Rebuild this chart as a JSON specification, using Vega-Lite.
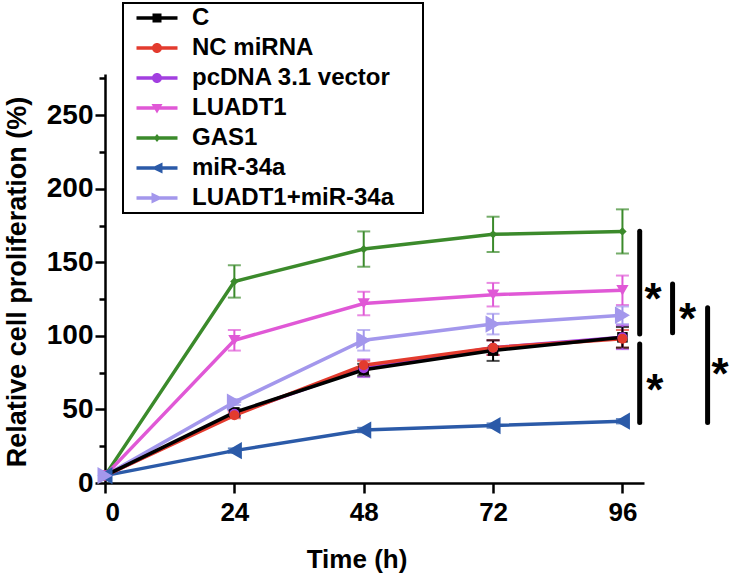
{
  "$schema": "https://vega.github.io/schema/vega-lite/v6.json",
  "autosize": "none",
  "width": 539,
  "height": 409,
  "padding": {"left": 105, "top": 74, "right": 91, "bottom": 97},
  "background": "white",
  "config": {"view": {"stroke": null}, "font": "Liberation Sans"},
  "datasets": {
    "main": [
      {"series": "miR-34a", "time": 0, "value": 5, "err": 0},
      {"series": "miR-34a", "time": 24, "value": 22, "err": 1.5},
      {"series": "miR-34a", "time": 48, "value": 36, "err": 1.5},
      {"series": "miR-34a", "time": 72, "value": 39, "err": 1.5},
      {"series": "miR-34a", "time": 96, "value": 42, "err": 1.5},
      {"series": "LUADT1+miR-34a", "time": 0, "value": 5, "err": 0},
      {"series": "LUADT1+miR-34a", "time": 24, "value": 55, "err": 2},
      {"series": "LUADT1+miR-34a", "time": 48, "value": 97, "err": 7},
      {"series": "LUADT1+miR-34a", "time": 72, "value": 108, "err": 7},
      {"series": "LUADT1+miR-34a", "time": 96, "value": 114, "err": 6},
      {"series": "GAS1", "time": 0, "value": 5, "err": 0},
      {"series": "GAS1", "time": 24, "value": 137, "err": 11},
      {"series": "GAS1", "time": 48, "value": 159, "err": 12},
      {"series": "GAS1", "time": 72, "value": 169, "err": 12},
      {"series": "GAS1", "time": 96, "value": 171, "err": 15},
      {"series": "pcDNA 3.1 vector", "time": 0, "value": 5, "err": 0},
      {"series": "pcDNA 3.1 vector", "time": 24, "value": 47, "err": 2},
      {"series": "pcDNA 3.1 vector", "time": 48, "value": 78, "err": 6},
      {"series": "pcDNA 3.1 vector", "time": 72, "value": 92, "err": 5},
      {"series": "pcDNA 3.1 vector", "time": 96, "value": 99, "err": 8},
      {"series": "NC miRNA", "time": 0, "value": 5, "err": 0},
      {"series": "NC miRNA", "time": 24, "value": 46, "err": 2},
      {"series": "NC miRNA", "time": 48, "value": 80, "err": 3},
      {"series": "NC miRNA", "time": 72, "value": 92, "err": 5},
      {"series": "NC miRNA", "time": 96, "value": 98, "err": 6},
      {"series": "LUADT1", "time": 0, "value": 5, "err": 0},
      {"series": "LUADT1", "time": 24, "value": 97, "err": 7},
      {"series": "LUADT1", "time": 48, "value": 122, "err": 8},
      {"series": "LUADT1", "time": 72, "value": 128, "err": 8},
      {"series": "LUADT1", "time": 96, "value": 131, "err": 10},
      {"series": "C", "time": 0, "value": 5, "err": 0},
      {"series": "C", "time": 24, "value": 48, "err": 2},
      {"series": "C", "time": 48, "value": 77, "err": 4},
      {"series": "C", "time": 72, "value": 90, "err": 7},
      {"series": "C", "time": 96, "value": 99, "err": 7}
    ],
    "brackets": [
      {"time": 99.2, "value": 171.2, "value2": 101.2},
      {"time": 99.2, "value": 94.4, "value2": 41.1},
      {"time": 105.3, "value": 135.2, "value2": 102.2},
      {"time": 111.8, "value": 119.2, "value2": 41.1}
    ],
    "stars": [
      {"time": 101.7, "value": 115.2, "label": "*"},
      {"time": 108.1, "value": 101.6, "label": "*"},
      {"time": 102.0, "value": 53.3, "label": "*"},
      {"time": 114.1, "value": 63.9, "label": "*"}
    ]
  },
  "encoding": {
    "x": {
      "field": "time", "type": "quantitative",
      "scale": {"domain": [0, 100], "nice": false, "zero": false},
      "axis": {
        "values": [0, 24, 48, 72, 96],
        "grid": false,
        "domainColor": "black", "domainWidth": 2.5,
        "tickColor": "black", "tickWidth": 2.5, "tickSize": 10,
        "labelFont": "Liberation Sans", "labelFontWeight": "bold", "labelFontSize": 26, "labelColor": "black", "labelPadding": 6,
        "title": "Time (h)",
        "titleFont": "Liberation Sans", "titleFontWeight": "bold", "titleFontSize": 26, "titleColor": "black",
        "titleX": 251.5, "titleY": 84, "titleAlign": "center", "titleBaseline": "alphabetic"
      }
    },
    "y": {
      "field": "value", "type": "quantitative",
      "scale": {"domain": [0, 278], "nice": false},
      "axis": {
        "values": [0, 25, 50, 75, 100, 125, 150, 175, 200, 225, 250, 275],
        "labelExpr": "datum.value % 50 === 0 ? datum.label : ''",
        "grid": false,
        "domainColor": "black", "domainWidth": 2.5,
        "tickColor": "black", "tickWidth": 2.5,
        "tickSize": {"condition": {"test": "datum.value % 50 === 0", "value": 10}, "value": 6},
        "labelFont": "Liberation Sans", "labelFontWeight": "bold", "labelFontSize": 28, "labelColor": "black", "labelPadding": 2,
        "title": "Relative cell proliferation (%)",
        "titleFont": "Liberation Sans", "titleFontWeight": "bold", "titleFontSize": 27, "titleColor": "black",
        "titleX": -80, "titleY": 207.5, "titleAlign": "center", "titleBaseline": "alphabetic", "titleAngle": -90
      }
    },
    "color": {
      "field": "series", "type": "nominal",
      "scale": {"domain": ["C", "NC miRNA", "pcDNA 3.1 vector", "LUADT1", "GAS1", "miR-34a", "LUADT1+miR-34a"],
                "range": ["#000000", "#e33b2e", "#a23fe0", "#e058d6", "#3b8a2b", "#2b5aa8", "#a397ec"]},
      "legend": {
        "orient": "none", "legendX": 18, "legendY": -71,
        "title": null,
        "strokeColor": "black", "fillColor": "white",
        "padding": 3, "rowPadding": 6,
        "labelFont": "Liberation Sans", "labelFontSize": 24, "labelFontWeight": "bold", "labelColor": "black",
        "labelLimit": 500, "labelBaseline": "middle",
        "symbolOffset": 19, "labelOffset": 23,
        "encode": {
          "legend": {"update": {"strokeWidth": {"value": 2}}},
          "symbols": {"update": {
            "shape": {"signal": "datum.value === 'C' ? 'M-4.1,-0.35H4.1V0.35H-4.1Z M-0.9,-0.9H0.9V0.9H-0.9Z' : datum.value === 'NC miRNA' || datum.value === 'pcDNA 3.1 vector' ? 'M-4.1,-0.35H4.1V0.35H-4.1Z M-1,0A1,1,0,1,1,1,0A1,1,0,1,1,-1,0Z' : datum.value === 'LUADT1' ? 'M-4.1,-0.35H4.1V0.35H-4.1Z M-1.1,-0.8L1.1,-0.8L0,1.1Z' : datum.value === 'GAS1' ? 'M-4.1,-0.35H4.1V0.35H-4.1Z M0,-0.8L0.65,0L0,0.8L-0.65,0Z' : datum.value === 'miR-34a' ? 'M-4.1,-0.35H4.1V0.35H-4.1Z M-1.2,0L1.1,-1.1L1.1,1.1Z' : 'M-4.1,-0.35H4.1V0.35H-4.1Z M1.2,0L-1.1,1.1L-1.1,-1.1Z M52.5,0Z'"},
            "size": {"value": 100},
            "fill": {"signal": "scale('color', datum.value)"},
            "stroke": {"value": "transparent"},
            "strokeWidth": {"value": 0},
            "opacity": {"value": 1}
          }}
        }
      }
    }
  },
  "layer": [
    {
      "data": {"name": "brackets"},
      "mark": {"type": "rule", "strokeWidth": 5, "strokeCap": "round", "color": "black"},
      "encoding": {"y2": {"field": "value2"}, "color": null}
    },
    {
      "data": {"name": "stars"},
      "mark": {"type": "text", "font": "Liberation Sans", "fontWeight": "bold", "fontSize": 44, "align": "center", "baseline": "alphabetic", "color": "black"},
      "encoding": {"text": {"field": "label"}, "color": null}
    },
    {
      "data": {"name": "main"},
      "transform": [{"filter": "datum.err > 0"}],
      "mark": {"type": "errorbar", "ticks": {"size": 13}, "thickness": 2},
      "encoding": {"yError": {"field": "err"}}
    },
    {
      "data": {"name": "main"},
      "mark": {"type": "line", "strokeWidth": 3.5}
    },
    {
      "data": {"name": "main"},
      "transform": [{"filter": "datum.series === 'C'"}],
      "mark": {"type": "point", "shape": "square", "size": 110, "filled": true, "opacity": 1}
    },
    {
      "data": {"name": "main"},
      "transform": [{"filter": "datum.series === 'NC miRNA' || datum.series === 'pcDNA 3.1 vector'"}],
      "mark": {"type": "point", "shape": "circle", "size": 100, "filled": true, "opacity": 1}
    },
    {
      "data": {"name": "main"},
      "transform": [{"filter": "datum.series === 'LUADT1'"}],
      "mark": {"type": "point", "shape": "triangle-down", "size": 150, "filled": true, "opacity": 1}
    },
    {
      "data": {"name": "main"},
      "transform": [{"filter": "datum.series === 'GAS1'"}],
      "mark": {"type": "point", "shape": "diamond", "size": 70, "filled": true, "opacity": 1}
    },
    {
      "data": {"name": "main"},
      "transform": [{"filter": "datum.series === 'miR-34a'"}],
      "mark": {"type": "point", "shape": "triangle-left", "size": 300, "filled": true, "opacity": 1}
    },
    {
      "data": {"name": "main"},
      "transform": [{"filter": "datum.series === 'LUADT1+miR-34a'"}],
      "mark": {"type": "point", "shape": "triangle-right", "size": 300, "filled": true, "opacity": 1}
    }
  ]
}
